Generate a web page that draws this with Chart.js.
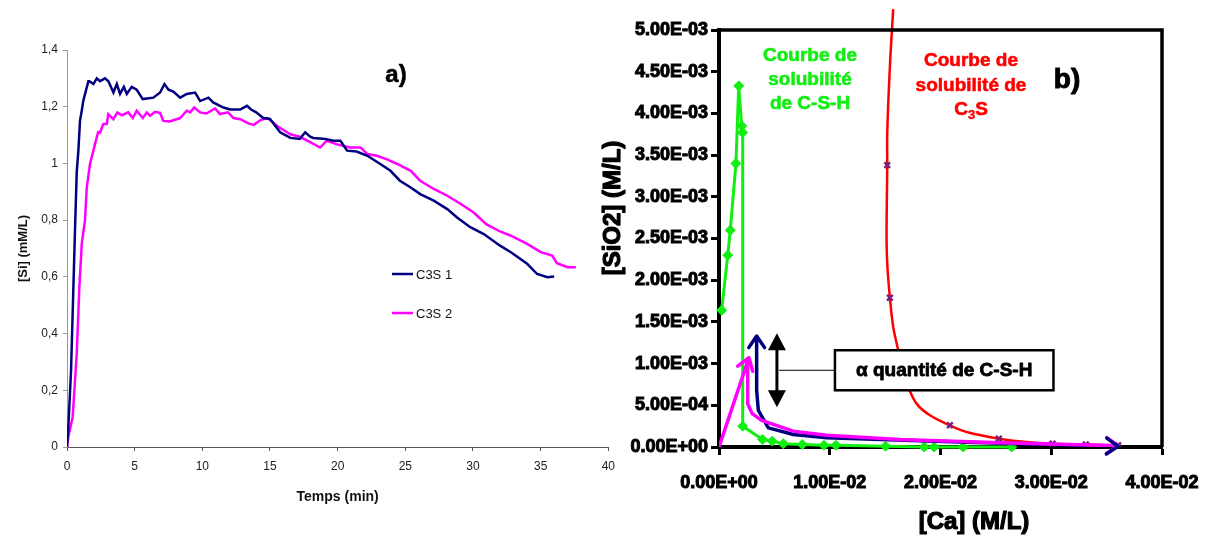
<!DOCTYPE html>
<html><head><meta charset="utf-8">
<script src="https://cdn.jsdelivr.net/npm/chart.js@4.4.1/dist/chart.umd.min.js"></script>
<style>
html,body{margin:0;padding:0;background:#fff;}
#wrap{position:relative;width:1216px;height:542px;overflow:hidden;background:#fff;}
canvas{position:absolute;top:0;}
#ca{left:0;} #cb{left:600px;}
</style></head><body>
<div id="wrap"><canvas id="ca" width="623" height="542"></canvas><canvas id="cb" width="616" height="542"></canvas></div>
<script>
// ---------- Chart a) data ----------
const timeA1 = [0,0.1,0.3,0.47,0.6,0.72,0.84,0.96,1.09,1.2,1.58,1.65,1.95,2.2,2.44,2.81,3.06,3.43,3.68,3.92,4.2,4.42,4.78,5.15,5.6,6.38,6.88,7.2,7.5,7.86,8.36,8.85,9.47,9.84,10.45,10.8,11.56,12.06,12.8,13.3,13.6,13.98,14.5,15.0,15.75,16.5,17.2,17.6,17.97,18.2,19.1,19.7,20.2,20.7,21.4,22.2,23.15,23.9,24.6,25.4,26.1,27.1,28.1,28.8,29.8,30.8,32.0,32.8,34.0,34.74,35.5,36.0];
const siA1   = [0,0.07,0.27,0.56,0.78,0.97,1.045,1.15,1.186,1.22,1.29,1.29,1.28,1.30,1.29,1.30,1.29,1.25,1.28,1.245,1.27,1.245,1.27,1.26,1.227,1.232,1.25,1.28,1.26,1.253,1.232,1.245,1.25,1.22,1.232,1.215,1.197,1.19,1.19,1.203,1.19,1.18,1.16,1.157,1.11,1.09,1.086,1.11,1.094,1.09,1.086,1.08,1.08,1.045,1.042,1.027,0.998,0.974,0.939,0.915,0.892,0.869,0.839,0.81,0.775,0.751,0.71,0.687,0.646,0.61,0.599,0.601];
const timeA2 = [0,0.1,0.42,0.72,0.91,1.09,1.33,1.46,1.7,1.95,2.07,2.3,2.44,2.68,2.94,3.05,3.18,3.43,3.72,4.05,4.53,4.86,5.15,5.6,5.9,6.14,6.5,6.88,7.12,7.6,8.36,8.85,9.1,9.4,9.84,10.3,10.95,11.3,11.9,12.3,12.8,13.4,13.8,14.3,14.8,15.1,15.5,16.0,16.5,17.2,18.0,18.7,19.2,19.9,20.9,21.7,22.2,22.9,23.6,24.4,25.4,26.1,27.1,28.1,29.1,30.05,31.0,32.0,32.8,34.0,35.0,35.85,36.2,37.0,37.6];
const siA2   = [0,0.035,0.106,0.33,0.56,0.716,0.8,0.915,0.998,1.045,1.068,1.11,1.109,1.139,1.139,1.174,1.168,1.156,1.18,1.17,1.18,1.16,1.186,1.16,1.18,1.168,1.182,1.178,1.15,1.148,1.16,1.186,1.18,1.197,1.18,1.176,1.194,1.174,1.18,1.16,1.156,1.141,1.136,1.153,1.16,1.15,1.133,1.118,1.103,1.094,1.074,1.056,1.08,1.068,1.056,1.056,1.033,1.027,1.015,0.998,0.974,0.939,0.91,0.886,0.857,0.827,0.785,0.76,0.745,0.716,0.687,0.675,0.648,0.634,0.634];
const seriesNamesA = ['C3S 1','C3S 2'];
const xTickLabelsA = ['0','5','10','15','20','25','30','35','40'];
const yTickLabelsA = ['0','0,2','0,4','0,6','0,8','1','1,2','1,4'];

// ---------- Chart b) data ----------
const cshCa  = [0.00024,0.00079,0.00102,0.00153,0.00178,0.00205,0.00214,0.00214,0.00394,0.00481,0.0058,0.00752,0.00948,0.01056,0.01504,0.01853,0.01943,0.02205,0.02642];
const cshSi  = [1.64e-3,2.30e-3,2.60e-3,3.40e-3,4.33e-3,3.85e-3,3.77e-3,0.25e-3,0.09e-3,0.07e-3,0.04e-3,0.03e-3,0.02e-3,0.02e-3,0.01e-3,0,0,0,0];
const c3sCurveCa = [0.01573,0.01543,0.01519,0.01519,0.01513,0.01519,0.01543,0.01573,0.01618,0.01663,0.01708,0.01784,0.01904,0.02085,0.02236,0.02527,0.02777,0.03012,0.03312,0.03604];
const c3sCurveSi = [5.25e-3,4.56e-3,3.76e-3,3.38e-3,2.56e-3,2.20e-3,1.79e-3,1.44e-3,1.16e-3,0.88e-3,0.72e-3,0.52e-3,0.38e-3,0.26e-3,0.18e-3,0.10e-3,0.06e-3,0.04e-3,0.03e-3,0.02e-3];
const c3sPtsCa = [0.01519,0.01543,0.02085,0.02527,0.03012,0.03312,0.03604];
const c3sPtsSi = [3.38e-3,1.79e-3,0.26e-3,0.10e-3,0.04e-3,0.03e-3,0.02e-3];
const run1Ca = [0.0034,0.0034,0.00355,0.00445,0.0067,0.00972,0.02236,0.03604];
const run1Si = [1.33e-3,0.68e-3,0.44e-3,0.23e-3,0.15e-3,0.11e-3,0.056e-3,0.008e-3];
const run2Ca = [0,0.0027,0.00259,0.00259,0.0030,0.00385,0.0067,0.00972,0.01634,0.02536,0.03604];
const run2Si = [0,1.07e-3,0.97e-3,0.52e-3,0.40e-3,0.32e-3,0.19e-3,0.14e-3,0.09e-3,0.05e-3,0.015e-3];
const xTickLabelsB = ['0.00E+00','1.00E-02','2.00E-02','3.00E-02','4.00E-02'];
const yTickLabelsB = ['0.00E+00','5.00E-04','1.00E-03','1.50E-03','2.00E-03','2.50E-03','3.00E-03','3.50E-03','4.00E-03','4.50E-03','5.00E-03'];
// annotation anchors (data coordinates)
const dblArrow = {x:0.00523, yTop:1.364e-3, yBot:0.476e-3};
const qtyBox = {x1:0.01047, x2:0.0302, yTop:1.16e-3, yBot:0.68e-3, yLine:0.92e-3, text:'\u03b1 quantit\u00e9 de C-S-H'};

const toXY = (xs, ys) => xs.map((x, i) => ({x, y: ys[i]}));
const FONT = '"Liberation Sans", Arial, sans-serif';

function txt(ctx, s, x, y, size, color, stroke, align) {
  ctx.save();
  ctx.font = 'bold ' + size + 'px ' + FONT;
  ctx.fillStyle = color; ctx.textAlign = align || 'center'; ctx.textBaseline = 'middle';
  if (stroke) { ctx.strokeStyle = color; ctx.lineWidth = stroke; ctx.lineJoin = 'round'; ctx.strokeText(s, x, y); }
  ctx.fillText(s, x, y);
  ctx.restore();
}

// ---------- Chart a ----------
const annotA = {
  id: 'annotA',
  afterDraw(chart) {
    const ctx = chart.ctx;
    txt(ctx, 'a)', 396, 75, 24, '#000', 0.5);
    const ds = chart.data.datasets;
    const rows = [274, 313];
    ds.forEach((d, i) => {
      ctx.save();
      ctx.strokeStyle = d.borderColor; ctx.lineWidth = 2.5;
      ctx.beginPath(); ctx.moveTo(392, rows[i]); ctx.lineTo(413, rows[i]); ctx.stroke();
      ctx.font = '13px ' + FONT; ctx.fillStyle = '#111'; ctx.textBaseline = 'middle'; ctx.textAlign = 'left';
      ctx.fillText(d.label, 416, rows[i] + 1);
      ctx.restore();
    });
  }
};

new Chart(document.getElementById('ca'), {
  type: 'scatter',
  data: { datasets: [
    {label: seriesNamesA[0], data: toXY(timeA1, siA1), borderColor: '#000080', backgroundColor: '#000080', borderWidth: 2.5, showLine: true, pointRadius: 0, tension: 0},
    {label: seriesNamesA[1], data: toXY(timeA2, siA2), borderColor: '#ff00ff', backgroundColor: '#ff00ff', borderWidth: 2.5, showLine: true, pointRadius: 0, tension: 0}
  ]},
  options: {
    responsive: false, animation: false, events: [],
    layout: {padding: {top: 50, right: 8, left: 0, bottom: 0}},
    plugins: {legend: {display: false}, tooltip: {enabled: false}},
    scales: {
      x: {type: 'linear', min: 0, max: 40,
        ticks: {stepSize: 5, autoSkip: false, maxRotation: 0, padding: 8, color: '#222', font: {family: FONT, size: 12}, callback: (v, i) => xTickLabelsA[i]},
        grid: {drawOnChartArea: false, drawTicks: true, tickLength: 4, color: '#555'},
        border: {color: '#555', width: 1},
        title: {display: true, text: 'Temps (min)', color: '#111', font: {family: FONT, size: 14, weight: 'bold'}, padding: {top: 0, bottom: 36}},
        afterFit(s) { s.height = 95; }
      },
      y: {min: 0, max: 1.4,
        ticks: {stepSize: 0.2, autoSkip: false, padding: 5, color: '#222', font: {family: FONT, size: 12}, callback: (v, i) => yTickLabelsA[i]},
        grid: {drawOnChartArea: false, drawTicks: true, tickLength: 4, color: '#999'},
        border: {color: '#999', width: 1},
        title: {display: true, text: '[Si] (mM/L)', color: '#111', font: {family: FONT, size: 13, weight: 'bold'}, padding: {top: 16, bottom: 0}},
        afterFit(s) { s.width = 67; }
      }
    }
  },
  plugins: [annotA]
});

// ---------- Chart b ----------
function chevron(ctx, x, y, ang, len, color, lw) {
  ctx.save(); ctx.strokeStyle = color; ctx.lineWidth = lw; ctx.lineCap = 'round'; ctx.lineJoin = 'round';
  ctx.beginPath();
  ctx.moveTo(x - len * Math.cos(ang - 0.6), y - len * Math.sin(ang - 0.6));
  ctx.lineTo(x, y);
  ctx.lineTo(x - len * Math.cos(ang + 0.6), y - len * Math.sin(ang + 0.6));
  ctx.stroke(); ctx.restore();
}
const annotB = {
  id: 'annotB',
  afterDatasetsDraw(chart) {
    const ctx = chart.ctx, a = chart.chartArea, sx = chart.scales.x, sy = chart.scales.y;
    ctx.save(); ctx.strokeStyle = '#000'; ctx.lineWidth = 3.5;
    ctx.beginPath(); ctx.moveTo(a.left, a.top); ctx.lineTo(a.right, a.top); ctx.lineTo(a.right, a.bottom); ctx.stroke(); ctx.restore();
    chart.data.datasets.forEach((d, i) => {
      if (!d.arrowAt) return;
      const pts = chart.getDatasetMeta(i).data;
      d.arrowAt.forEach(k => {
        const idx = k === 'last' ? pts.length - 1 : k;
        const p = pts[idx], q = idx === 0 ? pts[1] : pts[idx - 1];
        chevron(ctx, p.x, p.y, Math.atan2(p.y - q.y, p.x - q.x), 14, d.borderColor, 3.5);
      });
    });
    const ax = sx.getPixelForValue(dblArrow.x), at = sy.getPixelForValue(dblArrow.yTop), ab = sy.getPixelForValue(dblArrow.yBot);
    ctx.save(); ctx.fillStyle = '#000'; ctx.strokeStyle = '#000'; ctx.lineWidth = 3;
    ctx.beginPath(); ctx.moveTo(ax, at + 10); ctx.lineTo(ax, ab - 10); ctx.stroke();
    ctx.beginPath(); ctx.moveTo(ax, at); ctx.lineTo(ax - 9, at + 17); ctx.lineTo(ax + 9, at + 17); ctx.closePath(); ctx.fill();
    ctx.beginPath(); ctx.moveTo(ax, ab); ctx.lineTo(ax - 9, ab - 17); ctx.lineTo(ax + 9, ab - 17); ctx.closePath(); ctx.fill();
    const bx1 = sx.getPixelForValue(qtyBox.x1), bx2 = sx.getPixelForValue(qtyBox.x2);
    const by1 = sy.getPixelForValue(qtyBox.yTop), by2 = sy.getPixelForValue(qtyBox.yBot), ly = sy.getPixelForValue(qtyBox.yLine);
    ctx.lineWidth = 1; ctx.beginPath(); ctx.moveTo(ax + 2, ly); ctx.lineTo(bx1, ly); ctx.stroke();
    ctx.fillStyle = '#fff'; ctx.fillRect(bx1, by1, bx2 - bx1, by2 - by1);
    ctx.lineWidth = 2.5; ctx.strokeRect(bx1, by1, bx2 - bx1, by2 - by1);
    ctx.restore();
    txt(ctx, qtyBox.text, (bx1 + bx2) / 2, (by1 + by2) / 2, 19, '#000', 0.8);
  },
  afterDraw(chart) {
    const ctx = chart.ctx;
    const g = '#11ee11';
    txt(ctx, 'Courbe de', 210, 56, 19, g, 0.6);
    txt(ctx, 'solubilit\u00e9', 210, 80, 19, g, 0.6);
    txt(ctx, 'de C-S-H', 210, 104, 19, g, 0.6);
    const r = '#ff0000';
    txt(ctx, 'Courbe de', 371, 61, 19, r, 0.6);
    txt(ctx, 'solubilit\u00e9 de', 371, 86, 19, r, 0.6);
    ctx.save();
    ctx.font = 'bold 19px ' + FONT; const wC = ctx.measureText('C').width, wS = ctx.measureText('S').width;
    ctx.font = 'bold 13px ' + FONT; const w3 = ctx.measureText('3').width;
    ctx.restore();
    const x0 = 371 - (wC + w3 + wS) / 2;
    txt(ctx, 'C', x0, 110, 19, r, 0.6, 'left');
    txt(ctx, '3', x0 + wC, 115, 13, r, 0.4, 'left');
    txt(ctx, 'S', x0 + wC + w3, 110, 19, r, 0.6, 'left');
    txt(ctx, 'b)', 467, 80, 28, '#000', 1);
    txt(ctx, '[Ca] (M/L)', 374, 522, 24, '#000', 1.2);
    ctx.save(); ctx.translate(13, 208); ctx.rotate(-Math.PI / 2);
    txt(ctx, '[SiO2] (M/L)', 0, 0, 24, '#000', 1.2);
    ctx.restore();
  }
};

new Chart(document.getElementById('cb'), {
  type: 'scatter',
  data: { datasets: [
    {label: 'run 2', data: toXY(run2Ca, run2Si), borderColor: '#ff00ff', borderWidth: 3.5, showLine: true, pointRadius: 0, tension: 0, arrowAt: [1, 'last']},
    {label: 'run 1', data: toXY(run1Ca, run1Si), borderColor: '#000080', borderWidth: 3.5, showLine: true, pointRadius: 0, tension: 0, arrowAt: [0, 'last']},
    {label: 'C3S points', data: toXY(c3sPtsCa, c3sPtsSi), borderColor: '#7a1f7a', backgroundColor: '#7a1f7a', pointStyle: 'crossRot', pointRadius: 4, borderWidth: 2.5, showLine: false},
    {label: 'C3S', data: toXY(c3sCurveCa, c3sCurveSi), borderColor: '#ff0000', borderWidth: 2.5, showLine: true, pointRadius: 0, tension: 0.35, clip: false},
    {label: 'C-S-H', data: toXY(cshCa, cshSi), borderColor: '#11ee11', backgroundColor: '#11ee11', borderWidth: 3, showLine: true, pointStyle: 'rectRot', pointRadius: 5, pointBorderWidth: 1, tension: 0, clip: false}
  ]},
  options: {
    responsive: false, animation: false, events: [],
    layout: {padding: {top: 30, right: 54, left: 0, bottom: 0}},
    plugins: {legend: {display: false}, tooltip: {enabled: false}},
    scales: {
      x: {type: 'linear', min: 0, max: 0.04,
        ticks: {stepSize: 0.01, autoSkip: false, maxRotation: 0, padding: 17, color: '#000', textStrokeColor: '#000', textStrokeWidth: 1, font: {family: FONT, size: 18, weight: 'bold'}, callback: (v, i) => xTickLabelsB[i]},
        grid: {drawOnChartArea: false, drawTicks: true, tickLength: 8, tickWidth: 3, color: '#000'},
        border: {color: '#000', width: 4},
        afterFit(s) { s.height = 95; }
      },
      y: {min: 0, max: 0.005,
        ticks: {stepSize: 0.0005, autoSkip: false, padding: 3, color: '#000', textStrokeColor: '#000', textStrokeWidth: 1, font: {family: FONT, size: 18, weight: 'bold'}, callback: (v, i) => yTickLabelsB[i]},
        grid: {drawOnChartArea: false, drawTicks: true, tickLength: 8, tickWidth: 3, color: '#000'},
        border: {color: '#000', width: 4},
        afterFit(s) { s.width = 119; }
      }
    }
  },
  plugins: [annotB]
});
</script>
</body></html>
